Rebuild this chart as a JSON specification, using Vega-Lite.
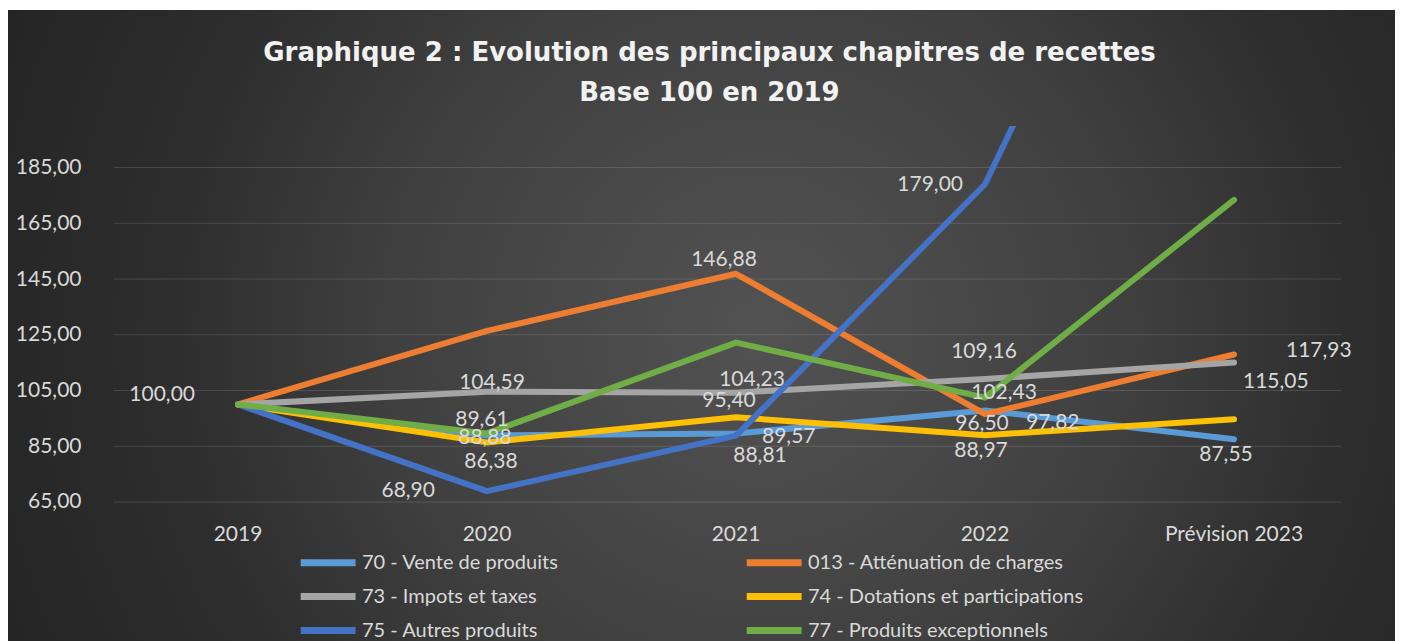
{
  "$schema": "https://vega.github.io/schema/vega-lite/v6.json",
  "background": "white",
  "padding": {"left": 8, "top": 10, "right": 8, "bottom": 0},
  "spacing": 0,
  "config": {
    "view": {"stroke": null},
    "locale": {"number": {"decimal": ",", "thousands": " ", "grouping": [3], "currency": ["", " €"]}},
    "text": {"font": "Lato", "fontSize": 21, "color": "#d9d9d9", "baseline": "middle"},
    "title": {"font": "DejaVu Sans", "fontSize": 26, "fontWeight": "bold", "color": "#f2f2f2", "lineHeight": 40, "anchor": "middle", "offset": -96, "dx": 8}
  },
  "datasets": {
    "series": [
      {"series": "70 - Vente de produits", "year": "2019", "value": 100},
      {"series": "70 - Vente de produits", "year": "2020", "value": 88.88},
      {"series": "70 - Vente de produits", "year": "2021", "value": 89.57},
      {"series": "70 - Vente de produits", "year": "2022", "value": 97.82},
      {"series": "70 - Vente de produits", "year": "Prévision 2023", "value": 87.55},
      {"series": "013 - Atténuation de charges", "year": "2019", "value": 100},
      {"series": "013 - Atténuation de charges", "year": "2020", "value": 126.4},
      {"series": "013 - Atténuation de charges", "year": "2021", "value": 146.88},
      {"series": "013 - Atténuation de charges", "year": "2022", "value": 96.5},
      {"series": "013 - Atténuation de charges", "year": "Prévision 2023", "value": 117.93},
      {"series": "73 - Impots et taxes", "year": "2019", "value": 100},
      {"series": "73 - Impots et taxes", "year": "2020", "value": 104.59},
      {"series": "73 - Impots et taxes", "year": "2021", "value": 104.23},
      {"series": "73 - Impots et taxes", "year": "2022", "value": 109.16},
      {"series": "73 - Impots et taxes", "year": "Prévision 2023", "value": 115.05},
      {"series": "74 - Dotations et participations", "year": "2019", "value": 100},
      {"series": "74 - Dotations et participations", "year": "2020", "value": 86.38},
      {"series": "74 - Dotations et participations", "year": "2021", "value": 95.4},
      {"series": "74 - Dotations et participations", "year": "2022", "value": 88.97},
      {"series": "74 - Dotations et participations", "year": "Prévision 2023", "value": 94.7},
      {"series": "75 - Autres produits", "year": "2019", "value": 100},
      {"series": "75 - Autres produits", "year": "2020", "value": 68.9},
      {"series": "75 - Autres produits", "year": "2021", "value": 88.81},
      {"series": "75 - Autres produits", "year": "2022", "value": 179},
      {"series": "75 - Autres produits", "year": "Prévision 2023", "value": 366},
      {"series": "77 - Produits exceptionnels", "year": "2019", "value": 100},
      {"series": "77 - Produits exceptionnels", "year": "2020", "value": 89.61},
      {"series": "77 - Produits exceptionnels", "year": "2021", "value": 122.2},
      {"series": "77 - Produits exceptionnels", "year": "2022", "value": 102.43},
      {"series": "77 - Produits exceptionnels", "year": "Prévision 2023", "value": 173.4}
    ],
    "grid": [
      {"value": 65}, {"value": 85}, {"value": 105}, {"value": 125}, {"value": 145}, {"value": 165}, {"value": 185}
    ]
  },
  "vconcat": [
    {
      "width": 1387,
      "height": 116,
      "view": {"stroke": null, "fill": {"gradient": "radial", "x1": 0.542, "y1": 0.689, "x2": 0.542, "y2": 0.689, "r1": 0, "r2": 0.6,
        "stops": [{"offset": 0, "color": "#525252"}, {"offset": 0.2, "color": "#4a4a4a"}, {"offset": 0.45, "color": "#3f3f3f"}, {"offset": 0.7, "color": "#2e2e2e"}, {"offset": 1, "color": "#242424"}]}},
      "title": {"text": ["Graphique  2 : Evolution des principaux chapitres de recettes", "Base 100 en 2019"]},
      "data": {"values": [{}]},
      "mark": {"type": "text", "text": ""},
      "encoding": {}
    },
    {
      "width": 1387,
      "height": 515,
      "view": {"stroke": null, "fill": {"gradient": "radial", "x1": 0.542, "y1": 0.461, "x2": 0.542, "y2": 0.461, "r1": 0, "r2": 0.6,
        "stops": [{"offset": 0, "color": "#525252"}, {"offset": 0.2, "color": "#4a4a4a"}, {"offset": 0.45, "color": "#3f3f3f"}, {"offset": 0.7, "color": "#2e2e2e"}, {"offset": 1, "color": "#242424"}]}},
      "data": {"name": "series"},
      "encoding": {
        "x": {"field": "year", "type": "nominal",
          "scale": {"type": "band", "domain": ["2019", "2020", "2021", "2022", "Prévision 2023"], "paddingInner": 0, "paddingOuter": 0.2851, "align": 0.743},
          "axis": {"orient": "bottom", "offset": -118, "ticks": false, "domain": false, "grid": false, "labelPadding": 0, "labelAngle": 0, "labelFont": "Lato", "labelFontSize": 21, "labelColor": "#d9d9d9", "title": null}},
        "y": {"field": "value", "type": "quantitative",
          "scale": {"domain": [15.13, 199.9], "nice": false, "zero": false},
          "axis": {"orient": "left", "offset": -73, "ticks": false, "domain": false, "grid": false, "labelPadding": 0, "values": [65, 85, 105, 125, 145, 165, 185], "format": ".2f", "labelFont": "Lato", "labelFontSize": 21, "labelColor": "#d9d9d9", "title": null}}
      },
      "layer": [
        {
          "data": {"name": "grid"},
          "mark": {"type": "rule", "stroke": "#ffffff", "strokeOpacity": 0.13, "strokeWidth": 1},
          "encoding": {
            "x": {"datum": "2019", "bandPosition": 0, "title": null},
            "x2": {"datum": "Prévision 2023", "bandPosition": 0.93}
          }
        },
        {
          "mark": {"type": "line", "strokeWidth": 6, "strokeCap": "round", "strokeJoin": "round", "clip": true},
          "encoding": {
            "color": {"field": "series", "type": "nominal",
              "scale": {"domain": ["70 - Vente de produits", "013 - Atténuation de charges", "73 - Impots et taxes", "74 - Dotations et participations", "75 - Autres produits", "77 - Produits exceptionnels"],
                "range": ["#5B9BD5", "#ED7D31", "#A5A5A5", "#FFC000", "#4472C4", "#70AD47"]},
              "legend": {"orient": "none", "direction": "horizontal", "legendX": 327, "legendY": 540, "columns": 2, "columnPadding": 173, "rowPadding": 5, "symbolType": "M-5.2,0H0.9", "symbolSize": 324, "symbolStrokeWidth": 7, "labelFont": "Lato", "labelFontSize": 20, "labelColor": "#d9d9d9", "labelOffset": 2, "labelLimit": 400, "title": null, "padding": 0}}
          }
        },
        {"transform": [{"filter": "datum.series === '73 - Impots et taxes' && datum.year === '2019'"}], "mark": {"type": "text", "align": "right", "dx": -43, "dy": -9}, "encoding": {"text": {"field": "value", "format": ".2f"}}},
        {"transform": [{"filter": "datum.series === '73 - Impots et taxes' && datum.year === '2020'"}], "mark": {"type": "text", "align": "center", "dx": 5, "dy": -9}, "encoding": {"text": {"field": "value", "format": ".2f"}}},
        {"transform": [{"filter": "datum.series === '77 - Produits exceptionnels' && datum.year === '2020'"}], "mark": {"type": "text", "align": "center", "dx": -5, "dy": -13}, "encoding": {"text": {"field": "value", "format": ".2f"}}},
        {"transform": [{"filter": "datum.series === '70 - Vente de produits' && datum.year === '2020'"}], "mark": {"type": "text", "align": "center", "dx": -2, "dy": 3}, "encoding": {"text": {"field": "value", "format": ".2f"}}},
        {"transform": [{"filter": "datum.series === '74 - Dotations et participations' && datum.year === '2020'"}], "mark": {"type": "text", "align": "center", "dx": 4, "dy": 20}, "encoding": {"text": {"field": "value", "format": ".2f"}}},
        {"transform": [{"filter": "datum.series === '75 - Autres produits' && datum.year === '2020'"}], "mark": {"type": "text", "align": "right", "dx": -52, "dy": 0}, "encoding": {"text": {"field": "value", "format": ".2f"}}},
        {"transform": [{"filter": "datum.series === '013 - Atténuation de charges' && datum.year === '2021'"}], "mark": {"type": "text", "align": "center", "dx": -12, "dy": -14}, "encoding": {"text": {"field": "value", "format": ".2f"}}},
        {"transform": [{"filter": "datum.series === '73 - Impots et taxes' && datum.year === '2021'"}], "mark": {"type": "text", "align": "center", "dx": 16, "dy": -13}, "encoding": {"text": {"field": "value", "format": ".2f"}}},
        {"transform": [{"filter": "datum.series === '74 - Dotations et participations' && datum.year === '2021'"}], "mark": {"type": "text", "align": "center", "dx": -7, "dy": -16}, "encoding": {"text": {"field": "value", "format": ".2f"}}},
        {"transform": [{"filter": "datum.series === '70 - Vente de produits' && datum.year === '2021'"}], "mark": {"type": "text", "align": "left", "dx": 26, "dy": 3}, "encoding": {"text": {"field": "value", "format": ".2f"}}},
        {"transform": [{"filter": "datum.series === '75 - Autres produits' && datum.year === '2021'"}], "mark": {"type": "text", "align": "center", "dx": 24, "dy": 20}, "encoding": {"text": {"field": "value", "format": ".2f"}}},
        {"transform": [{"filter": "datum.series === '75 - Autres produits' && datum.year === '2022'"}], "mark": {"type": "text", "align": "right", "dx": -22, "dy": 1}, "encoding": {"text": {"field": "value", "format": ".2f"}}},
        {"transform": [{"filter": "datum.series === '73 - Impots et taxes' && datum.year === '2022'"}], "mark": {"type": "text", "align": "center", "dx": -1, "dy": -27}, "encoding": {"text": {"field": "value", "format": ".2f"}}},
        {"transform": [{"filter": "datum.series === '77 - Produits exceptionnels' && datum.year === '2022'"}], "mark": {"type": "text", "align": "center", "dx": 19, "dy": -5}, "encoding": {"text": {"field": "value", "format": ".2f"}}},
        {"transform": [{"filter": "datum.series === '013 - Atténuation de charges' && datum.year === '2022'"}], "mark": {"type": "text", "align": "center", "dx": -3, "dy": 10}, "encoding": {"text": {"field": "value", "format": ".2f"}}},
        {"transform": [{"filter": "datum.series === '70 - Vente de produits' && datum.year === '2022'"}], "mark": {"type": "text", "align": "left", "dx": 41, "dy": 12}, "encoding": {"text": {"field": "value", "format": ".2f"}}},
        {"transform": [{"filter": "datum.series === '74 - Dotations et participations' && datum.year === '2022'"}], "mark": {"type": "text", "align": "center", "dx": -4, "dy": 16}, "encoding": {"text": {"field": "value", "format": ".2f"}}},
        {"transform": [{"filter": "datum.series === '013 - Atténuation de charges' && datum.year === 'Prévision 2023'"}], "mark": {"type": "text", "align": "left", "dx": 52, "dy": -3}, "encoding": {"text": {"field": "value", "format": ".2f"}}},
        {"transform": [{"filter": "datum.series === '73 - Impots et taxes' && datum.year === 'Prévision 2023'"}], "mark": {"type": "text", "align": "left", "dx": 9, "dy": 20}, "encoding": {"text": {"field": "value", "format": ".2f"}}},
        {"transform": [{"filter": "datum.series === '70 - Vente de produits' && datum.year === 'Prévision 2023'"}], "mark": {"type": "text", "align": "center", "dx": -8, "dy": 16}, "encoding": {"text": {"field": "value", "format": ".2f"}}}
      ]
    }
  ]
}
